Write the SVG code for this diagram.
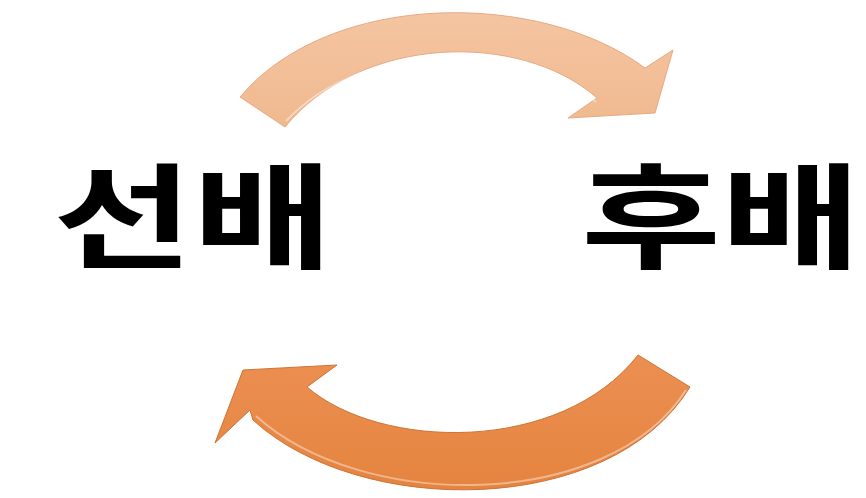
<svg xmlns="http://www.w3.org/2000/svg" width="866" height="498" viewBox="0 0 866 498">
  <defs>
    <linearGradient id="gTop" x1="0" y1="0" x2="0" y2="1">
      <stop offset="0" stop-color="#f4c5a2"/>
      <stop offset="1" stop-color="#f0b98f"/>
    </linearGradient>
    <linearGradient id="gBot" x1="0" y1="0" x2="0" y2="1">
      <stop offset="0" stop-color="#eb8f52"/>
      <stop offset="1" stop-color="#e5843f"/>
    </linearGradient>
  </defs>
  <style>
    .lbl { font-family: "Noto Sans CJK KR", "Noto Sans", sans-serif; font-weight: 700; font-size: 114px; fill: #000; }
    .bevel { fill: none; stroke: #ffffff; stroke-opacity: 0.4; stroke-width: 2; stroke-linejoin: round; }
  </style>
  <g id="connectors">
    <g id="arrow-top">
      <path d="M240,97 C330,-10 540,-10 645,68 L673,50 L655,113 L568,118 L597,98 C520,30 360,35 285,127 Z" fill="url(#gTop)" stroke="#e8a982" stroke-width="1"/>
      <path class="bevel" d="M596,102 C520,36 362,40 286,121"/>
    </g>
    <g id="arrow-bottom">
      <path d="M690,387 C610,518 360,518 253,420 L250,410 L215,443 L243,370 L337,365 L307,387 C380,450 560,455 638,355 Z" fill="url(#gBot)" stroke="#cf7436" stroke-width="1"/>
      <path class="bevel" d="M686,390 C608,512 362,512 256,416"/>
    </g>
  </g>
  <g id="senior">
    <text class="lbl" x="53" y="259" textLength="280" lengthAdjust="spacingAndGlyphs">선배</text>
  </g>
  <g id="junior">
    <text class="lbl" x="581" y="259" textLength="280" lengthAdjust="spacingAndGlyphs">후배</text>
  </g>
</svg>
